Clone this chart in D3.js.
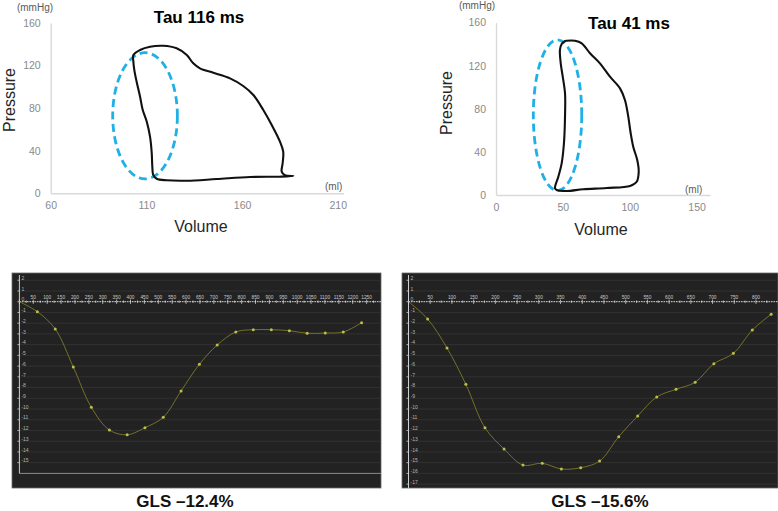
<!DOCTYPE html>
<html>
<head>
<meta charset="utf-8">
<script src="https://cdn.jsdelivr.net/npm/d3@7"></script>
<style>
body { margin: 0; background: #fff; }
svg text { font-family: "Liberation Sans", Arial, sans-serif; }
</style>
</head>
<body>
<div id="container"></div>
<script>
// pressure-volume loop, Tau 116 ms
const loopAVolume = [103.2,106.7,111.9,118.8,125.8,131.1,134.5,138.0,145.0,153.7,160.6,165.9,171.1,175.5,179.8,181.5,181.2,180.7,182.4,186.8,179.8,164.2,146.7,131.1,120.6,115.4,113.6,113.1,112.8,111.9,110.2,108.1,106.7,104.9,103.7,103.2];
const loopAPressure = [129.9,134.6,137.7,138.6,136.2,129.9,122.1,117.4,113.2,108.0,100.8,92.3,78.2,64.1,48.5,39.1,28.2,20.3,16.9,16.2,15.6,15.3,13.4,11.8,12.2,13.7,17.2,25.0,37.6,53.2,67.2,78.2,90.7,104.8,115.8,123.6];
const ellipseACenter = [109.3, 72.8];
const ellipseARadius = [16.9, 59.3];

// pressure-volume loop, Tau 41 ms
const loopBVolume = [52.8,59.0,64.1,70.3,77.7,85.2,92.7,96.4,98.9,100.7,102.6,105.6,106.7,105.2,100.2,82.7,65.2,52.8,45.4,44.1,46.6,49.1,50.8,51.6,51.6,49.9,48.4,47.8,49.1,51.6];
const loopBPressure = [143.2,143.2,140.8,131.5,122.2,109.8,99.0,88.2,72.7,57.3,44.8,32.5,21.6,12.3,8.4,6.5,5.3,3.7,4.6,6.2,17.0,29.4,48.0,72.7,94.4,109.8,122.2,134.6,140.1,142.9];
const ellipseBCenter = [46, 74];
const ellipseBRadius = [18.1, 69.9];

const pressureTicks = [0, 40, 80, 120, 160];
const loopAVolumeTicks = [60, 110, 160, 210];
const loopBVolumeTicks = [0, 50, 100, 150];

// strain curves (time ms, strain %)
const strainATime = [0,64.5,129,194,259,324,388,452,518,582,648,712,779,842,907,972,1036,1101,1166,1232];
const strainAValue = [0,-0.93,-2.54,-6.09,-9.84,-11.96,-12.40,-11.74,-10.77,-8.32,-5.83,-4.04,-2.82,-2.61,-2.61,-2.70,-2.94,-2.92,-2.82,-1.96];
const strainBTime = [0,44,88.6,132,176,220,263.6,308,352,396.5,440,484,527.7,571.5,616,660,703,748,791.6,835];
const strainBValue = [0,-1.61,-4.31,-7.70,-11.74,-13.73,-15.22,-15.06,-15.59,-15.47,-14.85,-12.58,-10.65,-8.88,-8.16,-7.51,-5.78,-4.81,-2.64,-1.17];

const strainATimeTicks = [50,100,150,200,250,300,350,400,450,500,550,600,650,700,750,800,850,900,950,1000,1050,1100,1150,1200,1250];
const strainBTimeTicks = [50,100,150,200,250,300,350,400,450,500,550,600,650,700,750,800];
const strainAValueTicks = [2,1,0,-1,-2,-3,-4,-5,-6,-7,-8,-9,-10,-11,-12,-13,-14,-15];
const strainBValueTicks = [2,1,0,-1,-2,-3,-4,-5,-6,-7,-8,-9,-10,-11,-12,-13,-14,-15,-16,-17];

const titles = ["Tau 116 ms", "Tau 41 ms"];
const glsLabels = ["GLS \u201312.4%", "GLS \u201315.6%"];

const width = 778, height = 511;
const svg = d3.select("#container").append("svg")
              .attr("width", width)
              .attr("height", height);

function drawLoop(cfg) {
    const x = d3.scaleLinear().domain(cfg.xDomain).range(cfg.xRange);
    const y = d3.scaleLinear().domain([0, 160]).range(cfg.yRange);
    const g = svg.append("g");

    const yAxis = g.append("g").attr("transform", "translate(" + cfg.xRange[0] + ",0)")
                   .call(d3.axisLeft(y).tickValues(pressureTicks).tickSize(0).tickPadding(cfg.yPad));
    const xAxis = g.append("g").attr("transform", "translate(0," + cfg.yRange[0] + ")")
                   .call(d3.axisBottom(x).tickValues(cfg.xTicks).tickSize(0).tickPadding(cfg.xPad));
    [yAxis, xAxis].forEach(a => {
        a.select(".domain").attr("stroke", "#d9d9d9").attr("stroke-width", 1.4);
        a.selectAll("text").attr("fill", "#8a8a8a").style("font-size", "10.5px");
    });

    // dashed ellipse round the relaxation limb
    g.append("ellipse")
     .attr("cx", x(cfg.ellC[0]))
     .attr("cy", y(cfg.ellC[1]))
     .attr("rx", x(cfg.xDomain[0] + cfg.ellR[0]) - x(cfg.xDomain[0]))
     .attr("ry", y(0) - y(cfg.ellR[1]))
     .attr("fill", "none")
     .attr("stroke", "#1eb0e6")
     .attr("stroke-width", 2.8)
     .attr("stroke-dasharray", "8,4.5");

    const line = d3.line().x(d => x(d[0])).y(d => y(d[1])).curve(d3.curveCatmullRomClosed.alpha(0.5));
    g.append("path")
     .attr("d", line(d3.zip(cfg.vol, cfg.pres)))
     .attr("fill", "none")
     .attr("stroke", "#111")
     .attr("stroke-width", 2.1)
     .attr("stroke-linejoin", "round");

    g.append("text").attr("x", cfg.mmHg[0]).attr("y", cfg.mmHg[1])
     .attr("text-anchor", "middle").attr("fill", "#595959").style("font-size", "10px").text("(mmHg)");
    g.append("text").attr("x", cfg.ml[0]).attr("y", cfg.ml[1])
     .attr("fill", "#595959").style("font-size", "10px").text("(ml)");
    g.append("text").attr("transform", "translate(" + cfg.pLab[0] + "," + cfg.pLab[1] + ") rotate(-90)")
     .attr("text-anchor", "middle").attr("fill", "#262626").style("font-size", "16px").text("Pressure");
    g.append("text").attr("x", cfg.vLab[0]).attr("y", cfg.vLab[1])
     .attr("text-anchor", "middle").attr("fill", "#262626").style("font-size", "16px").text("Volume");
    g.append("text").attr("x", cfg.tLab[0]).attr("y", cfg.tLab[1])
     .attr("text-anchor", "middle").attr("fill", "#000").style("font-size", "17px")
     .style("font-weight", "bold").text(cfg.title);
}

drawLoop({
    xDomain: [60, 213], xRange: [50.7, 343.5], yRange: [193.3, 23],
    xTicks: loopAVolumeTicks, xPad: 8, yPad: 10,
    vol: loopAVolume, pres: loopAPressure, ellC: ellipseACenter, ellR: ellipseARadius,
    mmHg: [35, 10.5], ml: [325, 190], pLab: [15, 100], vLab: [201, 232], tLab: [199, 23],
    title: titles[0]
});
drawLoop({
    xDomain: [0, 160], xRange: [496, 710], yRange: [195, 22.6],
    xTicks: loopBVolumeTicks, xPad: 9, yPad: 10,
    vol: loopBVolume, pres: loopBPressure, ellC: ellipseBCenter, ellR: ellipseBRadius,
    mmHg: [477, 9], ml: [685, 193], pLab: [452, 103], vLab: [601, 235], tLab: [629, 29],
    title: titles[1]
});

function drawStrain(cfg) {
    const x = d3.scaleLinear().domain(cfg.xDomain).range(cfg.xRange);
    const y = d3.scaleLinear().domain([0, -16]).range([301.7, 473.4]);
    const g = svg.append("g");
    const [bx0, bx1, by0, by1] = cfg.box;

    g.append("rect").attr("x", bx0).attr("y", by0).attr("width", bx1 - bx0).attr("height", by1 - by0)
     .attr("fill", "#222222").attr("stroke", "#6a6a6a").attr("stroke-width", 0.8);

    // horizontal grid
    g.selectAll(".grid").data(cfg.yTicks).join("line")
     .attr("x1", x(0)).attr("x2", bx1)
     .attr("y1", d => y(d)).attr("y2", d => y(d))
     .attr("stroke", "#363636").attr("stroke-width", 0.8);

    if (cfg.bottomLine) {
        g.append("line").attr("x1", x(0)).attr("x2", bx1)
         .attr("y1", y(-16)).attr("y2", y(-16))
         .attr("stroke", "#8a8a8a").attr("stroke-width", 1);
    }

    // vertical axis
    g.append("line").attr("x1", x(0)).attr("x2", x(0))
     .attr("y1", by0 + 2).attr("y2", cfg.bottomLine ? y(-16) : by1)
     .attr("stroke", "#cfcfcf").attr("stroke-width", 1);
    g.selectAll(".ytick").data(cfg.yTicks).join("line")
     .attr("x1", x(0) - 2).attr("x2", x(0))
     .attr("y1", d => y(d)).attr("y2", d => y(d))
     .attr("stroke", "#cfcfcf").attr("stroke-width", 0.8);
    g.selectAll(".ylab").data(cfg.yTicks).join("text")
     .attr("x", x(0) + 2).attr("y", d => y(d) - 0.3)
     .attr("fill", "#b5b5b5").style("font-size", "5px").text(d => d);

    // zero line with minor ticks
    g.append("line").attr("x1", x(0)).attr("x2", bx1)
     .attr("y1", y(0)).attr("y2", y(0))
     .attr("stroke", "#e6e6e6").attr("stroke-width", 0.9).attr("stroke-dasharray", "1.6,0.9");
    const minor = d3.range(0, cfg.xDomain[1], 25);
    g.selectAll(".xtick").data(minor).join("line")
     .attr("x1", d => x(d)).attr("x2", d => x(d))
     .attr("y1", d => y(0) - (d % 50 === 0 ? 2.2 : 1.2)).attr("y2", d => y(0) + (d % 50 === 0 ? 2.2 : 1.2))
     .attr("stroke", "#e6e6e6").attr("stroke-width", 0.7);
    g.selectAll(".xlab").data(cfg.xTicks).join("text")
     .attr("x", d => x(d)).attr("y", y(0) - 3.2)
     .attr("text-anchor", "middle").attr("fill", "#c8c8c8").style("font-size", "4.8px").text(d => d);

    const pts = d3.zip(cfg.t, cfg.v);
    const line = d3.line().x(d => x(d[0])).y(d => y(d[1])).curve(d3.curveCatmullRom.alpha(0.5));
    g.append("path").attr("d", line(pts))
     .attr("fill", "none").attr("stroke", "#7a7a2c").attr("stroke-width", 0.9);
    g.selectAll(".dot").data(pts.slice(1)).join("circle")
     .attr("cx", d => x(d[0])).attr("cy", d => y(d[1])).attr("r", 1.5)
     .attr("fill", "#bdbd48");

    svg.append("text").attr("x", cfg.gls[0]).attr("y", cfg.gls[1])
       .attr("text-anchor", "middle").attr("fill", "#111").style("font-size", "17px")
       .style("font-weight", "bold").text(cfg.label);
}

drawStrain({
    xDomain: [0, 1300], xRange: [19.4, 380.5], box: [12, 381, 273, 488], bottomLine: true,
    t: strainATime, v: strainAValue, xTicks: strainATimeTicks, yTicks: strainAValueTicks,
    gls: [185, 507], label: glsLabels[0]
});
drawStrain({
    xDomain: [0, 850], xRange: [408.5, 777.7], box: [402, 778, 273, 488], bottomLine: false,
    t: strainBTime, v: strainBValue, xTicks: strainBTimeTicks, yTicks: strainBValueTicks,
    gls: [600, 507], label: glsLabels[1]
});
</script>
</body>
</html>
